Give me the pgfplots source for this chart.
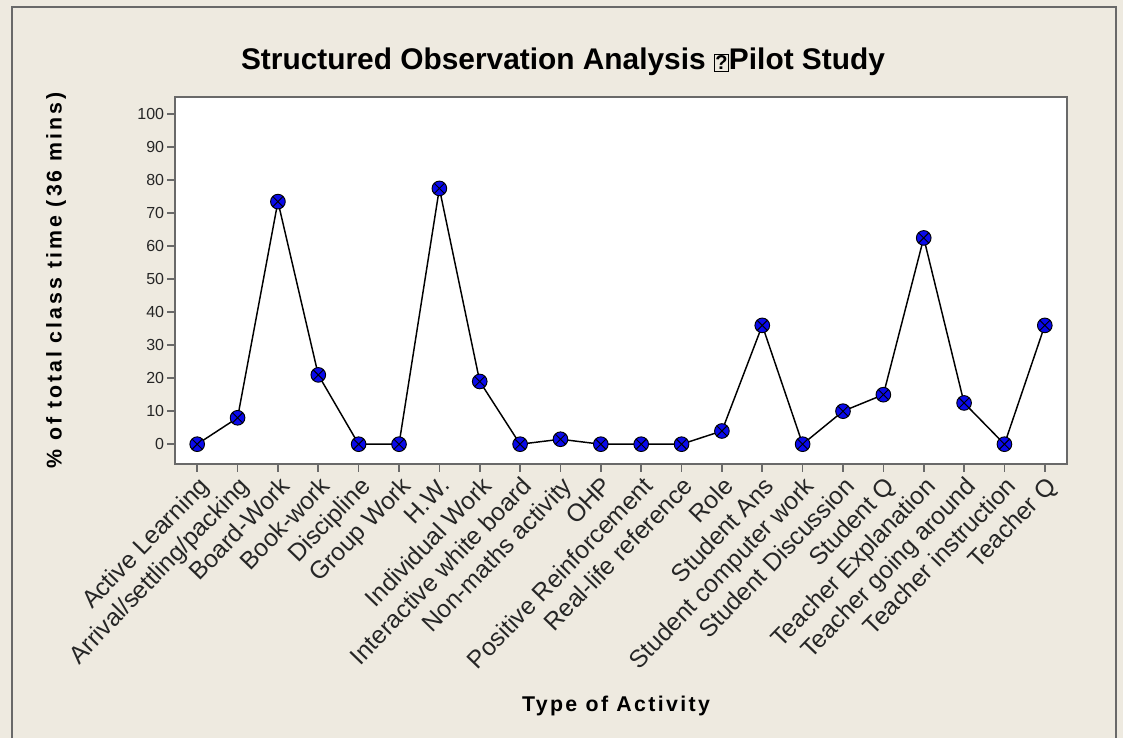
\documentclass[border=0pt]{standalone}
\usepackage{pgfplots}
\pgfplotsset{compat=1.18}
\usepackage{fontspec}
\setmainfont{Liberation Sans}
\usetikzlibrary{plotmarks}
\definecolor{bg}{RGB}{238,234,224}
\definecolor{framegray}{RGB}{105,105,105}
\definecolor{mblue}{RGB}{10,10,235}
\pgfplotstableread{
x y
0 0
1 8
2 73.5
3 21
4 0
5 0
6 77.5
7 19
8 0
9 1.5
10 0
11 0
12 0
13 4
14 36
15 0
16 10
17 15
18 62.5
19 12.5
20 0
21 36
}\datatable
\begin{document}
\begin{tikzpicture}
\useasboundingbox (0,0) rectangle (842.25pt,553.5pt);
\fill[bg] (0,0) rectangle (842.25pt,553.5pt);
\draw[framegray, line width=1.5pt] (9pt,0) -- (9pt,548.25pt) -- (837pt,548.25pt) -- (837pt,0);
\begin{axis}[
  at={(131.25pt,205.5pt)}, anchor=south west,
  width=669pt, height=275.25pt, scale only axis,
  xmin=-0.55, xmax=21.55, ymin=-6, ymax=105.2,
  axis background/.style={fill=white},
  axis line style={framegray, line width=1.5pt},
  xtick={0,...,21},
  xticklabels={Active Learning,Arrival/settling/packing,Board-Work,Book-work,Discipline,Group Work,H.W.,Individual Work,Interactive white board,Non-maths activity,OHP,Positive Reinforcement,Real-life reference,Role,Student Ans,Student computer work,Student Discussion,Student Q,Teacher Explanation,Teacher going around,Teacher instruction,Teacher Q},
  ytick={0,10,...,100},
  tick align=outside, tick pos=left,
  major tick length=6pt,
  tick style={framegray, line width=1.2pt},
  yticklabel style={font=\fontsize{12}{14}\selectfont, text=black!85, inner sep=2pt},
  xticklabel style={font=\fontsize{18.5}{20}\selectfont, text=black!85, rotate=46, anchor=north east, inner sep=1.5pt},
  /pgf/number format/assume math mode=true,
]
\addplot[black, line width=1.1pt, mark=otimes*, mark size=5.5pt,
  mark options={fill=mblue, draw=black, line width=0.7pt}] table[x=x,y=y] {\datatable};
\end{axis}
\node[font=\bfseries\fontsize{22.4}{26}\selectfont] at (422.25pt,507pt)
  {Structured Observation Analysis {\setlength{\fboxsep}{0.6pt}\fbox{\fontsize{15}{16}\selectfont ?}}Pilot Study};
\node[rotate=90, font=\bfseries\fontsize{16}{18}\selectfont\addfontfeature{LetterSpace=14}] at (42pt,343pt)
  {\% of total class time (36 mins)};
\node[font=\bfseries\fontsize{16}{18}\selectfont\addfontfeature{LetterSpace=11}] at (462pt,24pt) {Type of Activity};
\end{tikzpicture}
\end{document}
